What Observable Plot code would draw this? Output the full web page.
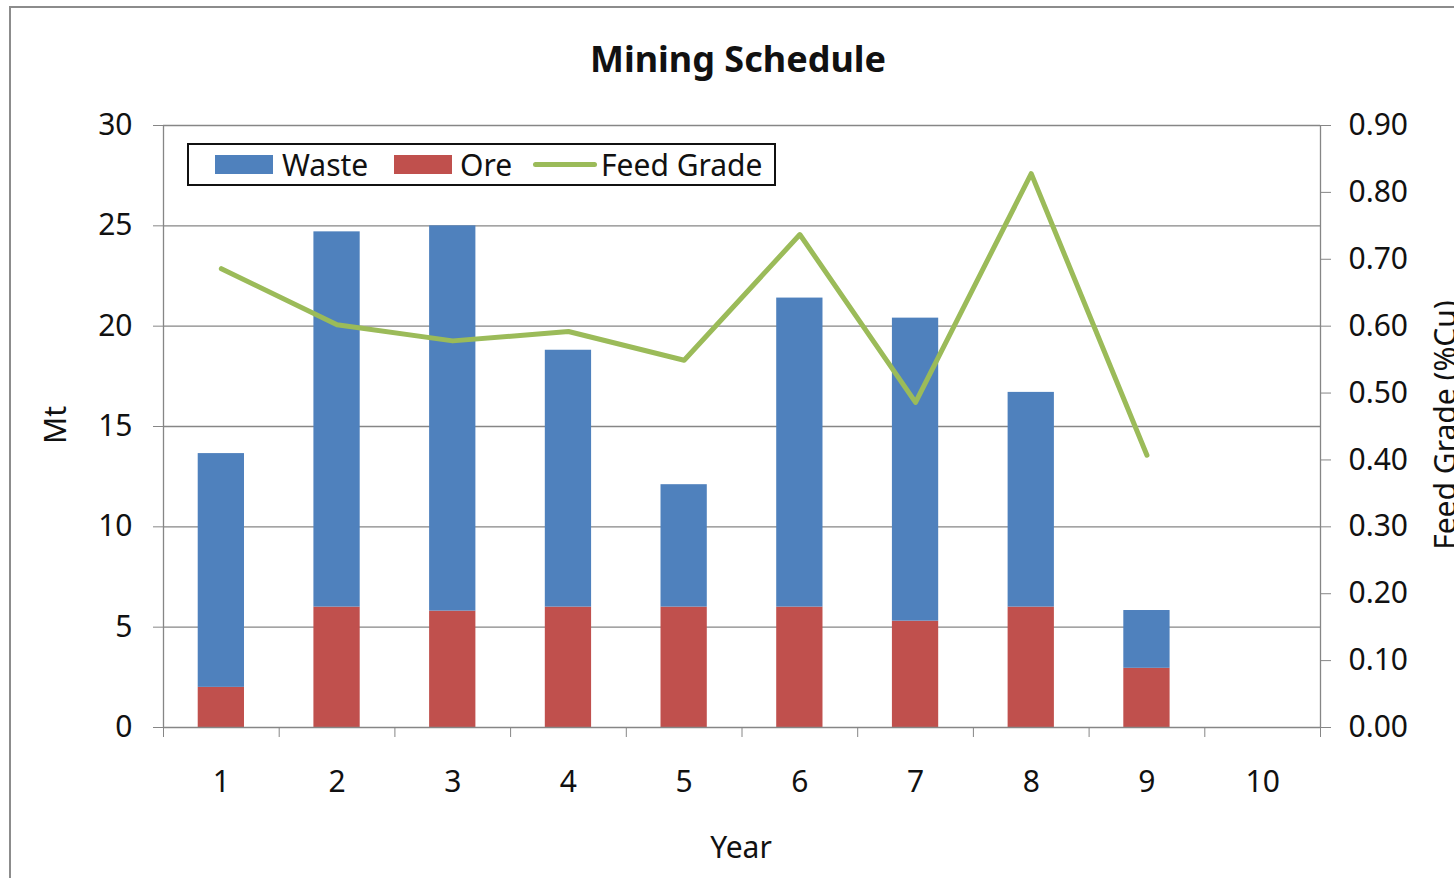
<!DOCTYPE html>
<html><head><meta charset="utf-8">
<script src="https://cdn.jsdelivr.net/npm/d3@7"></script>
<script src="https://cdn.jsdelivr.net/npm/@observablehq/plot@0.6"></script>
<style>
body{margin:0;background:#fff;font-family:"Noto Sans",sans-serif;color:#111}
#wrap{position:relative;width:1454px;height:878px;overflow:hidden;background:#fff}
#wrap svg{position:absolute;left:0;top:0}
.ov{position:absolute;white-space:nowrap;line-height:1}
.c{transform:translate(-50%,-50%)}
</style></head><body><div id="wrap"></div>
<script>
// Data
const years = [1, 2, 3, 4, 5, 6, 7, 8, 9, 10];
const ore = [2.0, 6.0, 5.8, 6.0, 6.0, 6.0, 5.3, 6.0, 2.95, 0];
const waste = [11.65, 18.7, 19.2, 12.8, 6.1, 15.4, 15.1, 10.7, 2.88, 0];
const feedGrade = [0.686, 0.602, 0.578, 0.592, 0.549, 0.737, 0.486, 0.828, 0.407, null];
const leftTicks = [0, 5, 10, 15, 20, 25, 30];
const rightTicks = [0, 0.1, 0.2, 0.3, 0.4, 0.5, 0.6, 0.7, 0.8, 0.9];

const rows = years.map((y, i) => ({year: y, ore: ore[i], waste: waste[i], grade: feedGrade[i]}));
const K = 30 / 0.9; // right axis (grade) -> left axis (Mt)
const bars = rows.filter(d => d.ore + d.waste > 0);
const grid = "#868686";

const chart = Plot.plot({
  width: 1454, height: 878,
  marginLeft: 163, marginRight: 134, marginTop: 125, marginBottom: 151,
  x: {type: "linear", domain: [0.5, 10.5]},
  y: {domain: [0, 30]},
  style: {fontFamily: "Noto Sans", fontSize: "30px", color: "#111", background: "transparent", overflow: "visible"},
  marks: [
    Plot.gridY(leftTicks.filter(d => d > 0), {stroke: grid, strokeOpacity: 1, strokeWidth: 1.3}),
    Plot.rectY(bars, {x1: d => d.year - 0.2, x2: d => d.year + 0.2, y1: 0, y2: "ore", fill: "#C0504D"}),
    Plot.rectY(bars, {x1: d => d.year - 0.2, x2: d => d.year + 0.2, y1: "ore", y2: d => d.ore + d.waste, fill: "#4F81BD"}),
    Plot.ruleY([0], {stroke: grid, strokeWidth: 1.3}),
    Plot.ruleX([0.5, 10.5], {stroke: grid, strokeWidth: 1.3}),
    Plot.axisY(leftTicks, {anchor: "left", tickSize: 10, tickPadding: 21, stroke: grid, label: null}),
    Plot.axisY(rightTicks.map(v => v * K), {anchor: "right", tickSize: 10, tickPadding: 18, stroke: grid, tickFormat: d => (d / K).toFixed(2), label: null}),
    Plot.axisX(d3.range(0.5, 11, 1), {anchor: "bottom", tickSize: 10, stroke: grid, tickFormat: () => "", label: null}),
    Plot.axisX(years, {anchor: "bottom", tickSize: 0, tickPadding: 43, tickFormat: d => String(d), label: null}),
    Plot.line(rows.filter(d => d.grade != null), {x: "year", y: d => d.grade * K, stroke: "#9BBB59", strokeWidth: 5, strokeLinejoin: "round"})
  ]
});
const wrap = document.getElementById("wrap");
wrap.appendChild(chart);

function add(html, style, cls) {
  const d = document.createElement("div");
  d.className = "ov " + (cls || "");
  d.innerHTML = html;
  d.setAttribute("style", style);
  wrap.appendChild(d);
  return d;
}
// outer chart border
add("", "left:9px;top:6px;width:2000px;height:2000px;border:2px solid #8c8c8c;box-sizing:border-box");
// title
add("Mining Schedule", "left:738px;top:59px;font-size:36px;font-weight:bold", "c");
// axis titles
add("Mt", "left:55px;top:425px;font-size:30px;transform:translate(-50%,-50%) rotate(-90deg)");
add("Year", "left:741px;top:847px;font-size:30px", "c");
add("Feed Grade (%Cu)", "left:1445px;top:425px;font-size:30px;transform:translate(-50%,-50%) rotate(-90deg)");
// legend
add("", "left:187px;top:143px;width:589px;height:43px;border:2px solid #111;box-sizing:border-box;background:#fff");
add("", "left:215px;top:155px;width:58px;height:19px;background:#4F81BD");
add("Waste", "left:282px;top:165px;font-size:30px;transform:translateY(-50%)");
add("", "left:394px;top:155px;width:58px;height:19px;background:#C0504D");
add("Ore", "left:460px;top:165px;font-size:30px;transform:translateY(-50%)");
add("", "left:533px;top:162px;width:64px;height:5px;border-radius:3px;background:#9BBB59");
add("Feed Grade", "left:601px;top:165px;font-size:30px;transform:translateY(-50%)");
</script>
</body></html>
